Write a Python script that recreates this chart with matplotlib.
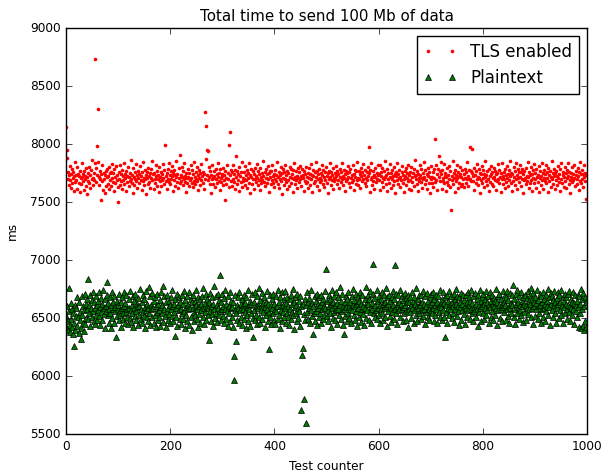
import matplotlib
matplotlib.use("Agg")
import matplotlib.pyplot as plt

plt.style.use('classic')

title = "Total time to send 100 Mb of data"
xlabel = "Test counter"
ylabel = "ms"
series_names = ["TLS enabled", "Plaintext"]

tls_ms = [
8150, 7950, 7880, 7760, 7700, 7650, 7735, 7812, 7690, 7742, 7625, 7781, 7668, 7703, 7756, 7598, 7720, 7845, 7671, 7734,
7689, 7612, 7798, 7745, 7660, 7723, 7587, 7770, 7706, 7652, 7834, 7718, 7679, 7741, 7603, 7765, 7698, 7727, 7640, 7789,
7712, 7569, 7748, 7683, 7805, 7661, 7730, 7621, 7776, 7694, 7858, 7709, 7645, 7752, 7688, 7832, 8733, 7674, 7796, 7737,
7980, 7842, 8300, 7716, 7650, 7763, 7702, 7517, 7739, 7677, 7822, 7606, 7754, 7695, 7731, 7580, 7768, 7640, 7712, 7787,
7659, 7726, 7801, 7614, 7746, 7693, 7758, 7637, 7829, 7704, 7672, 7749, 7592, 7781, 7718, 7664, 7810, 7687, 7733, 7628,
7500, 7755, 7699, 7819, 7646, 7738, 7685, 7774, 7611, 7722, 7690, 7837, 7657, 7744, 7708, 7593, 7766, 7727, 7676, 7802,
7635, 7719, 7751, 7684, 7862, 7701, 7663, 7736, 7579, 7790, 7714, 7648, 7760, 7696, 7825, 7682, 7729, 7617, 7771, 7705,
7741, 7666, 7808, 7692, 7724, 7601, 7757, 7680, 7843, 7711, 7644, 7779, 7697, 7735, 7567, 7762, 7710, 7655, 7795, 7728,
7673, 7747, 7624, 7783, 7706, 7851, 7686, 7739, 7609, 7752, 7700, 7665, 7816, 7720, 7641, 7769, 7694, 7731, 7588, 7804,
7717, 7678, 7759, 7636, 7743, 7691, 7827, 7707, 7658, 7773, 7990, 7725, 7683, 7750, 7615, 7786, 7702, 7669, 7838, 7733,
7654, 7764, 7696, 7813, 7721, 7596, 7748, 7688, 7776, 7639, 7730, 7712, 7857, 7675, 7744, 7620, 7791, 7704, 7662, 7905,
7737, 7681, 7800, 7713, 7648, 7767, 7698, 7833, 7671, 7726, 7583, 7754, 7709, 7660, 7785, 7719, 7637, 7747, 7692, 7820,
7703, 7667, 7772, 7630, 7740, 7685, 7848, 7716, 7652, 7761, 7699, 7806, 7679, 7734, 7604, 7778, 7711, 7645, 7752, 7690,
7826, 7723, 7668, 7757, 7613, 7745, 7700, 8276, 8155, 7870, 7950, 7736, 7940, 7689, 7799, 7718, 7651, 7763, 7574, 7730,
7694, 7815, 7708, 7656, 7770, 7725, 7633, 7784, 7697, 7741, 7662, 7839, 7715, 7677, 7753, 7602, 7788, 7706, 7670, 7742,
7721, 7645, 7796, 7686, 7732, 7520, 7766, 7710, 7659, 7823, 7695, 7749, 7627, 7990, 7735, 8103, 7683, 7774, 7641, 7758,
7701, 7818, 7669, 7743, 7616, 7780, 7897, 7713, 7653, 7767, 7688, 7738, 7595, 7802, 7720, 7674, 7755, 7631, 7845, 7707,
7682, 7762, 7698, 7811, 7647, 7729, 7690, 7775, 7622, 7746, 7704, 7836, 7666, 7733, 7581, 7786, 7716, 7657, 7770, 7694,
7744, 7610, 7797, 7699, 7724, 7672, 7829, 7710, 7643, 7763, 7687, 7740, 7605, 7792, 7718, 7664, 7751, 7693, 7854, 7727,
7676, 7758, 7634, 7783, 7705, 7739, 7660, 7808, 7697, 7748, 7590, 7771, 7714, 7651, 7764, 7688, 7819, 7723, 7668, 7745,
7628, 7777, 7702, 7736, 7685, 7841, 7712, 7655, 7760, 7619, 7730, 7696, 7799, 7679, 7747, 7570, 7782, 7709, 7646, 7756,
7700, 7822, 7673, 7734, 7608, 7769, 7692, 7750, 7638, 7803, 7717, 7662, 7787, 7706, 7741, 7584, 7773, 7695, 7832, 7719,
7654, 7765, 7689, 7728, 7625, 7794, 7711, 7670, 7757, 7699, 7814, 7725, 7642, 7781, 7703, 7737, 7598, 7768, 7684, 7743,
7661, 7806, 7715, 7676, 7752, 7618, 7789, 7707, 7738, 7650, 7826, 7694, 7732, 7587, 7774, 7720, 7666, 7758, 7680, 7849,
7712, 7639, 7766, 7697, 7742, 7603, 7785, 7704, 7671, 7753, 7691, 7817, 7729, 7658, 7778, 7716, 7632, 7761, 7686, 7798,
7723, 7664, 7747, 7579, 7770, 7701, 7834, 7713, 7648, 7759, 7688, 7735, 7614, 7792, 7708, 7677, 7754, 7696, 7812, 7727,
7652, 7771, 7690, 7744, 7623, 7786, 7714, 7669, 7760, 7700, 7838, 7721, 7645, 7776, 7705, 7739, 7593, 7767, 7682, 7750,
7698, 7809, 7717, 7663, 7757, 7628, 7783, 7709, 7733, 7674, 7821, 7693, 7740, 7606, 7780, 7719, 7656, 7764, 7687, 7843,
7711, 7644, 7769, 7702, 7745, 7617, 7795, 7725, 7678, 7756, 7694, 7827, 7731, 7660, 7774, 7706, 7636, 7762, 7689, 7801,
7720, 7974, 7751, 7585, 7777, 7699, 7839, 7716, 7650, 7763, 7684, 7737, 7611, 7790, 7712, 7672, 7748, 7697, 7815, 7729,
7742, 7688, 7815, 7603, 7756, 7724, 7671, 7790, 7709, 7633, 7768, 7697, 7851, 7715, 7659, 7737, 7594, 7781, 7702, 7746,
7665, 7829, 7712, 7750, 7618, 7694, 7773, 7728, 7647, 7806, 7683, 7739, 7575, 7762, 7720, 7691, 7837, 7655, 7744, 7706,
7780, 7628, 7717, 7693, 7759, 7811, 7662, 7735, 7699, 7586, 7770, 7726, 7648, 7794, 7704, 7751, 7679, 7822, 7613, 7732,
7688, 7757, 7606, 7801, 7716, 7674, 7747, 7640, 7785, 7721, 7865, 7695, 7730, 7657, 7764, 7598, 7738, 7711, 7677, 7819,
7734, 7669, 7788, 7703, 7623, 7752, 7698, 7844, 7718, 7659, 7776, 7687, 7741, 7610, 7797, 7725, 7666, 7760, 7581, 7713,
7699, 7810, 7716, 7664, 7757, 7629, 7784, 7708, 8043, 7673, 7822, 7692, 7741, 7605, 7781, 7717, 7897, 7765, 7685, 7842,
7743, 7616, 7779, 7707, 7684, 7831, 7661, 7726, 7753, 7599, 7714, 7790, 7672, 7737, 7648, 7808, 7700, 7765, 7631, 7430,
7727, 7692, 7856, 7654, 7748, 7710, 7587, 7773, 7735, 7680, 7817, 7703, 7621, 7761, 7724, 7666, 7799, 7745, 7639, 7719,
7656, 7774, 7694, 7743, 7627, 7788, 7709, 7667, 7757, 7702, 7848, 7723, 7642, 7780, 7699, 7974, 7701, 7766, 7679, 7957,
7751, 7682, 7720, 7603, 7795, 7733, 7661, 7768, 7697, 7828, 7715, 7645, 7782, 7706, 7750, 7577, 7739, 7690, 7812, 7668,
7704, 7779, 7627, 7745, 7716, 7853, 7683, 7731, 7649, 7764, 7698, 7591, 7787, 7722, 7674, 7808, 7740, 7656, 7759, 7710,
7636, 7797, 7712, 7689, 7769, 7605, 7738, 7753, 7679, 7826, 7701, 7663, 7775, 7719, 7582, 7748, 7694, 7835, 7727, 7651,
7762, 7699, 7618, 7786, 7731, 7670, 7812, 7707, 7744, 7641, 7773, 7690, 7857, 7723, 7660, 7752, 7596, 7738, 7681, 7799,
7714, 7647, 7766, 7694, 7837, 7729, 7610, 7782, 7703, 7755, 7675, 7820, 7719, 7638, 7760, 7698, 7787, 7576, 7741, 7686,
7768, 7706, 7651, 7794, 7725, 7684, 7846, 7713, 7620, 7759, 7737, 7667, 7803, 7692, 7745, 7599, 7776, 7709, 7660, 7831,
7697, 7749, 7625, 7784, 7718, 7672, 7736, 7590, 7813, 7703, 7764, 7644, 7728, 7688, 7839, 7751, 7614, 7772, 7705, 7677,
7741, 7820, 7663, 7707, 7757, 7584, 7795, 7730, 7685, 7769, 7632, 7715, 7850, 7699, 7747, 7658, 7783, 7721, 7608, 7753,
7690, 7763, 7724, 7643, 7807, 7711, 7676, 7742, 7595, 7788, 7701, 7832, 7668, 7734, 7756, 7627, 7717, 7799, 7683, 7746,
7618, 7775, 7706, 7838, 7727, 7655, 7760, 7693, 7580, 7748, 7715, 7801, 7670, 7739, 7687, 7822, 7710, 7641, 7767, 7733,
7701, 7654, 7789, 7720, 7605, 7757, 7684, 7843, 7738, 7666, 7778, 7696, 7626, 7743, 7712, 7815, 7679, 7752, 7530, 7735,
]

plain_ms = [
6520, 6410, 6605, 6470, 6395, 6760, 6560, 6440, 6380, 6630, 6495, 6420, 6575, 6360, 6540, 6259, 6455, 6610, 6400, 6520,
6585, 6435, 6680, 6510, 6370, 6640, 6480, 6555, 6415, 6319, 6690, 6530, 6460, 6600, 6390, 6565, 6705, 6445, 6620, 6500,
6575, 6660, 6836, 6490, 6615, 6540, 6700, 6430, 6590, 6655, 6505, 6725, 6560, 6470, 6635, 6585, 6450, 6690, 6525, 6610,
6480, 6645, 6570, 6720, 6515, 6595, 6440, 6675, 6550, 6620, 6485, 6740, 6590, 6535, 6665, 6410, 6600, 6560, 6700, 6810,
6525, 6630, 6460, 6580, 6685, 6545, 6410, 6610, 6720, 6500, 6575, 6640, 6455, 6690, 6560, 6595, 6336, 6515, 6650, 6575,
6610, 6480, 6705, 6565, 6530, 6640, 6420, 6590, 6680, 6545, 6495, 6725, 6600, 6460, 6630, 6555, 6695, 6510, 6580, 6445,
6665, 6590, 6500, 6730, 6570, 6465, 6615, 6545, 6690, 6425, 6585, 6650, 6520, 6710, 6560, 6480, 6625, 6595, 6440, 6675,
6530, 6605, 6750, 6490, 6580, 6640, 6455, 6700, 6555, 6520, 6660, 6415, 6595, 6565, 6735, 6505, 6620, 6475, 6585, 6767,
6545, 6690, 6440, 6615, 6575, 6505, 6715, 6590, 6460, 6645, 6530, 6680, 6420, 6600, 6555, 6705, 6485, 6625, 6570, 6510,
6655, 6435, 6595, 6720, 6540, 6610, 6776, 6465, 6580, 6690, 6515, 6635, 6425, 6560, 6700, 6590, 6480, 6650, 6535, 6610,
6455, 6685, 6575, 6520, 6740, 6600, 6470, 6625, 6550, 6345, 6665, 6590, 6505, 6710, 6430, 6615, 6565, 6680, 6495, 6635,
6580, 6450, 6700, 6545, 6620, 6490, 6735, 6560, 6415, 6655, 6595, 6525, 6690, 6470, 6610, 6575, 6720, 6440, 6590, 6665,
6510, 6635, 6395, 6585, 6700, 6555, 6470, 6645, 6530, 6610, 6745, 6490, 6575, 6420, 6680, 6600, 6535, 6660, 6455, 6620,
6570, 6690, 6505, 6759, 6585, 6445, 6630, 6550, 6710, 6480, 6605, 6665, 6525, 6590, 6310, 6640, 6560, 6715, 6470, 6600,
6535, 6680, 6430, 6620, 6776, 6575, 6500, 6690, 6545, 6615, 6465, 6705, 6590, 6530, 6655, 6560, 6871, 6485, 6640, 6575,
6710, 6520, 6600, 6455, 6675, 6580, 6740, 6495, 6625, 6560, 6430, 6690, 6545, 6605, 6720, 6470, 6585, 6650, 6510, 6595,
6425, 6635, 6172, 5966, 6570, 6700, 6300, 6540, 6615, 6480, 6680, 6590, 6455, 6725, 6565, 6625, 6505, 6660, 6440, 6610,
6575, 6700, 6490, 6630, 6550, 6415, 6685, 6595, 6525, 6740, 6470, 6610, 6580, 6650, 6435, 6620, 6545, 6705, 6500, 6336,
6640, 6565, 6720, 6480, 6605, 6530, 6690, 6445, 6615, 6585, 6755, 6510, 6655, 6460, 6600, 6570, 6715, 6495, 6630, 6550,
6680, 6420, 6595, 6640, 6525, 6730, 6580, 6475, 6620, 6555, 6233, 6695, 6505, 6610, 6450, 6665, 6590, 6540, 6710, 6485,
6625, 6575, 6450, 6690, 6560, 6605, 6745, 6495, 6640, 6530, 6680, 6415, 6600, 6565, 6720, 6470, 6615, 6550, 6660, 6505,
6590, 6735, 6460, 6630, 6545, 6685, 6510, 6605, 6440, 6660, 6575, 6700, 6490, 6620, 6555, 6750, 6525, 6640, 6405, 6595,
6680, 6540, 6615, 6470, 6705, 6585, 6500, 6650, 6560, 6430, 6690, 6600, 5707, 6181, 6625, 6241, 5802, 6535, 6665, 6480,
6610, 5595, 6720, 6550, 6640, 6495, 6590, 6675, 6455, 6615, 6570, 6740, 6520, 6630, 6362, 6600, 6545, 6690, 6475, 6650,
6560, 6710, 6440, 6625, 6590, 6505, 6680, 6545, 6615, 6460, 6700, 6575, 6640, 6495, 6660, 6530, 6605, 6735, 6585, 6922,
6515, 6645, 6570, 6470, 6700, 6600, 6540, 6665, 6425, 6620, 6585, 6745, 6500, 6635, 6555, 6690, 6480, 6610, 6565, 6720,
6450, 6630, 6580, 6685, 6530, 6615, 6765, 6490, 6650, 6560, 6705, 6440, 6600, 6575, 6362, 6640, 6520, 6690, 6595, 6470,
6665, 6545, 6720, 6605, 6500, 6635, 6580, 6455, 6690, 6570, 6615, 6750, 6525, 6655, 6480, 6600, 6560, 6710, 6435, 6625,
6590, 6680, 6510, 6645, 6555, 6725, 6465, 6620, 6575, 6695, 6535, 6605, 6440, 6660, 6585, 6770, 6500, 6640, 6565, 6700,
6620, 6485, 6660, 6550, 6735, 6595, 6460, 6630, 6580, 6705, 6966, 6540, 6675, 6505, 6615, 6570, 6745, 6495, 6650, 6590,
6530, 6690, 6610, 6455, 6665, 6575, 6720, 6545, 6620, 6480, 6700, 6585, 6640, 6510, 6755, 6600, 6430, 6680, 6560, 6625,
6700, 6520, 6645, 6590, 6465, 6685, 6555, 6730, 6610, 6495, 6660, 6957, 6575, 6710, 6540, 6625, 6450, 6695, 6600, 6565,
6635, 6745, 6505, 6620, 6580, 6690, 6470, 6655, 6595, 6540, 6715, 6610, 6485, 6670, 6560, 6635, 6420, 6700, 6575, 6640,
6550, 6685, 6615, 6500, 6725, 6590, 6645, 6460, 6680, 6570, 6620, 6530, 6760, 6600, 6475, 6665, 6585, 6700, 6545, 6630,
6610, 6490, 6695, 6565, 6640, 6735, 6520, 6625, 6580, 6445, 6690, 6600, 6555, 6715, 6505, 6650, 6575, 6480, 6680, 6620,
6565, 6705, 6540, 6635, 6724, 6590, 6470, 6660, 6615, 6525, 6700, 6580, 6640, 6455, 6690, 6600, 6550, 6740, 6510, 6625,
6595, 6660, 6480, 6720, 6570, 6630, 6505, 6685, 6340, 6610, 6555, 6700, 6460, 6645, 6585, 6735, 6530, 6620, 6575, 6690,
6500, 6640, 6600, 6545, 6710, 6465, 6665, 6580, 6625, 6750, 6520, 6690, 6560, 6605, 6440, 6680, 6595, 6635, 6485, 6715,
6570, 6620, 6695, 6535, 6655, 6600, 6450, 6700, 6585, 6640, 6510, 6725, 6565, 6615, 6680, 6490, 6650, 6580, 6745, 6545,
6630, 6475, 6690, 6595, 6560, 6715, 6620, 6505, 6665, 6580, 6435, 6700, 6610, 6550, 6740, 6590, 6645, 6470, 6680, 6600,
6545, 6710, 6625, 6490, 6660, 6585, 6735, 6530, 6640, 6570, 6690, 6455, 6615, 6595, 6720, 6505, 6650, 6560, 6700, 6620,
6480, 6675, 6600, 6645, 6525, 6750, 6590, 6635, 6440, 6690, 6565, 6615, 6705, 6500, 6660, 6580, 6625, 6470, 6730, 6595,
6640, 6550, 6700, 6610, 6485, 6680, 6575, 6735, 6520, 6655, 6600, 6460, 6715, 6590, 6630, 6545, 6695, 6615, 6784, 6505,
6660, 6580, 6450, 6705, 6620, 6545, 6745, 6595, 6640, 6490, 6690, 6570, 6615, 6725, 6530, 6650, 6600, 6465, 6680, 6625,
6555, 6700, 6610, 6480, 6670, 6590, 6730, 6535, 6645, 6575, 6695, 6620, 6759, 6505, 6660, 6585, 6445, 6715, 6600, 6640,
6520, 6685, 6575, 6630, 6740, 6495, 6655, 6600, 6545, 6710, 6615, 6460, 6690, 6580, 6635, 6725, 6510, 6665, 6590, 6620,
6475, 6700, 6560, 6645, 6605, 6750, 6530, 6680, 6595, 6440, 6715, 6620, 6570, 6690, 6505, 6655, 6610, 6735, 6545, 6640,
6600, 6460, 6675, 6585, 6720, 6625, 6500, 6695, 6565, 6640, 6740, 6530, 6610, 6455, 6685, 6595, 6650, 6705, 6540, 6620,
6680, 6575, 6490, 6710, 6615, 6555, 6735, 6600, 6470, 6665, 6590, 6640, 6525, 6725, 6580, 6630, 6445, 6700, 6610, 6560,
6650, 6505, 6700, 6595, 6420, 6690, 6625, 6545, 6750, 6410, 6660, 6580, 6435, 6715, 6600, 6400, 6685, 6470, 6640, 6420,
]

test_counter = list(range(len(tls_ms)))

x_ticks = [0, 200, 400, 600, 800, 1000]
y_ticks = [5500, 6000, 6500, 7000, 7500, 8000, 8500, 9000]

plt.rcParams['font.family'] = ['DejaVu Sans']
plt.rcParams['font.size'] = 8.7

fig = plt.figure(figsize=(6.06, 4.71), dpi=100, facecolor='white')
ax = fig.add_axes([66/606, 1 - 434/471, (587 - 66)/606, (434 - 28)/471])
ax.set_facecolor('white')

ax.plot(test_counter, tls_ms, linestyle='none', marker='.', markersize=5.2,
        markeredgewidth=0, color='#ff0000', label=series_names[0])
ax.plot(test_counter, plain_ms, linestyle='none', marker='^', markersize=3.9,
        color='#007a00', markeredgecolor='black', markeredgewidth=0.5,
        label=series_names[1])

ax.set_xlim(0, 1000)
ax.set_ylim(5500, 9000)
ax.set_xticks(x_ticks)
ax.set_yticks(y_ticks)
ax.tick_params(labelsize=8.7)
ax.set_title(title, fontsize=10.8)
ax.set_xlabel(xlabel, fontsize=8.7)
ax.set_ylabel(ylabel, fontsize=8.7, labelpad=8)
ax.legend(loc='upper right', numpoints=2, fontsize=12, fancybox=False,
          borderaxespad=0.5)

fig.savefig('out.png', dpi=100, facecolor='white')
